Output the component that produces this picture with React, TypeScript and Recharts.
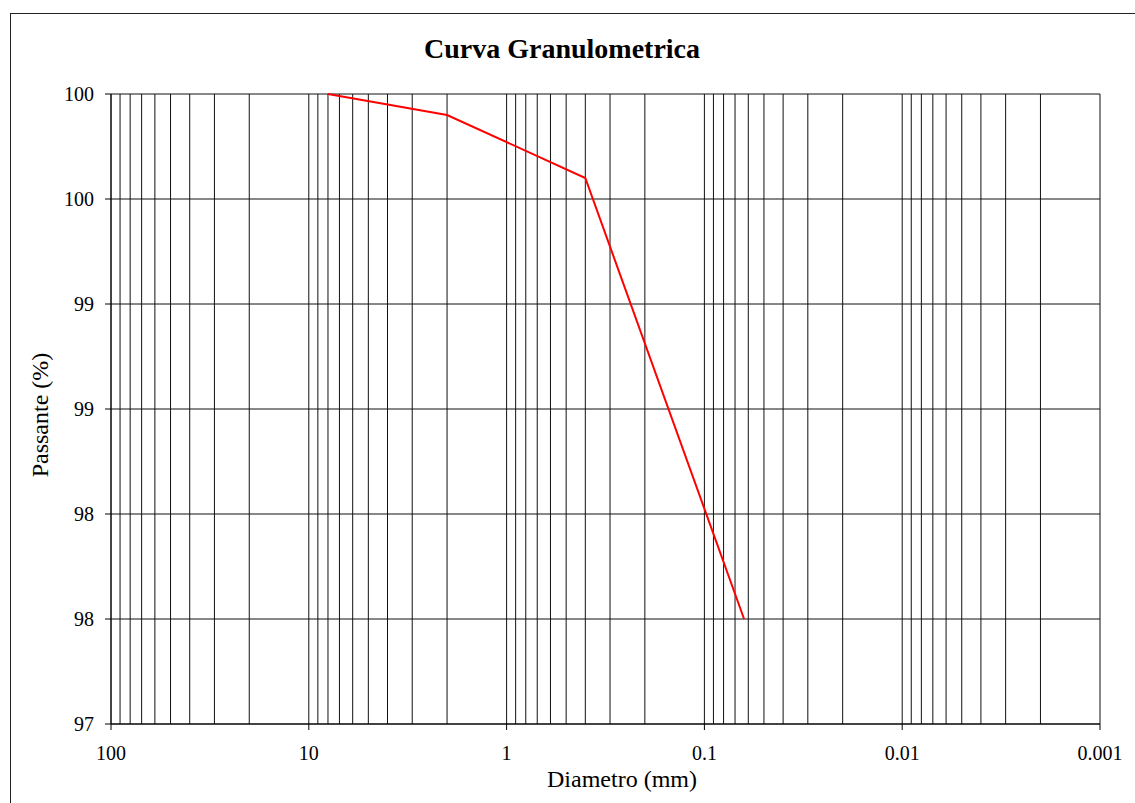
import { LineChart, Line, XAxis, YAxis, CartesianGrid, ReferenceLine, Label } from "recharts";

// sieve diameters (mm) and percent passing
const diametro = [8, 2, 0.4, 0.063];
const passante = [100, 99.9, 99.6, 97.5];

const xTicks = [100, 10, 1, 0.1, 0.01, 0.001];
const yTicks = [97, 97.5, 98, 98.5, 99, 99.5, 100];

const decades = [0.001, 0.01, 0.1, 1, 10];
const steps = [1, 2, 3, 4, 5, 6, 7, 8, 9];

const FONT = "'Liberation Serif', 'Times New Roman', serif";

const data = diametro.map((d, i) => ({ d, p: passante[i] }));

// log grid: every 1..9 inside each decade, plus the closing 100
const minorGrid: number[] = [];
for (const dec of decades) {
  for (const s of steps) minorGrid.push(+(dec * s).toPrecision(3));
}
minorGrid.push(100);

function YTitle() {
  return (
    <text
      x={0}
      y={0}
      transform="translate(48, 415) rotate(-90)"
      textAnchor="middle"
      fontFamily={FONT}
      fontSize={24}
      fill="#000"
    >
      Passante (%)
    </text>
  );
}

function XTitle() {
  return (
    <text x={622} y={787} textAnchor="middle" fontFamily={FONT} fontSize={24} fill="#000">
      Diametro (mm)
    </text>
  );
}

export default function App() {
  return (
    <div
      style={{
        position: "absolute",
        left: 0,
        top: 0,
        width: 1135,
        height: 803,
        overflow: "hidden",
        background: "#fff",
      }}
    >
      <div
        style={{
          position: "absolute",
          left: 10,
          top: 13,
          width: 1140,
          height: 810,
          border: "1.5px solid #222",
        }}
      />
      <div
        style={{
          position: "absolute",
          left: 0,
          top: 35,
          width: 1124,
          textAlign: "center",
          fontFamily: FONT,
          fontWeight: "bold",
          fontSize: 28,
          lineHeight: "28px",
        }}
      >
        Curva Granulometrica
      </div>
      <div style={{ position: "absolute", left: 0, top: 0 }}>
        <LineChart width={1135} height={803} data={data} margin={{ top: 94, right: 35, left: 0, bottom: 0 }}>
          <CartesianGrid stroke="#111" strokeWidth={1} vertical={false} />
          {minorGrid.map((v) => (
            <ReferenceLine key={v} x={v} stroke="#111" strokeWidth={1} />
          ))}
          <XAxis
            dataKey="d"
            type="number"
            scale="log"
            domain={[0.001, 100]}
            reversed
            allowDataOverflow
            ticks={xTicks}
            interval={0}
            tickFormatter={(v: number) => String(v)}
            height={79}
            tickSize={6}
            tickMargin={16}
            stroke="#000"
            tick={{ fontFamily: FONT, fontSize: 20, fill: "#000" }}
          >
            <Label content={<XTitle />} />
          </XAxis>
          <YAxis
            type="number"
            domain={[97, 100]}
            ticks={yTicks}
            interval={0}
            tickFormatter={(v: number) => String(Math.round(v))}
            width={111}
            tickSize={6}
            tickMargin={11}
            stroke="#000"
            tick={{ fontFamily: FONT, fontSize: 20, fill: "#000" }}
          >
            <Label content={<YTitle />} />
          </YAxis>
          <Line
            dataKey="p"
            type="linear"
            stroke="#ff0000"
            strokeWidth={2}
            dot={false}
            isAnimationActive={false}
          />
        </LineChart>
      </div>
    </div>
  );
}
